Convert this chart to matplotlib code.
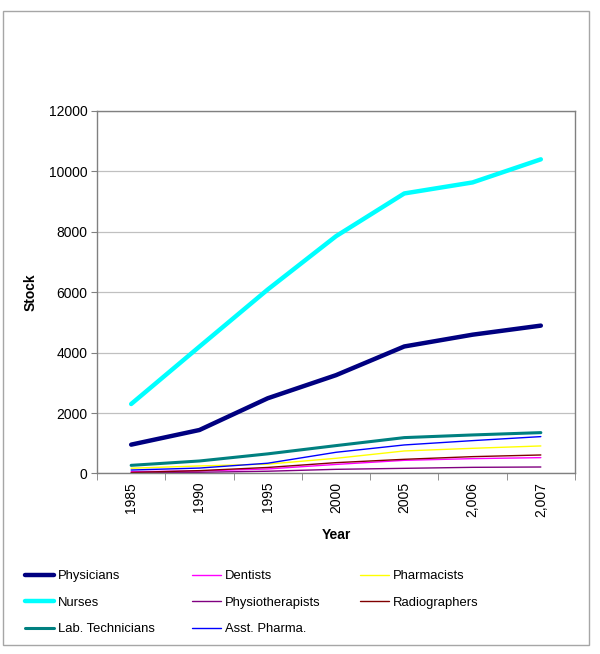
import matplotlib
matplotlib.use("Agg")
import matplotlib.pyplot as plt
from matplotlib.patches import Rectangle

plt.rcParams['font.family'] = ['Liberation Sans', 'DejaVu Sans']

years = ["1985", "1990", "1995", "2000", "2005", "2,006", "2,007"]
physicians = [955, 1440, 2490, 3255, 4205, 4595, 4895]
dentists = [60, 85, 150, 300, 436, 492, 525]
pharmacists = [175, 250, 310, 503, 746, 834, 912]
nurses = [2300, 4200, 6090, 7855, 9270, 9635, 10400]
physiotherapists = [15, 40, 75, 138, 171, 204, 215]
radiographers = [35, 95, 200, 359, 470, 558, 613]
lab_technicians = [270, 414, 650, 923, 1188, 1276, 1353]
asst_pharma = [115, 180, 340, 702, 945, 1088, 1221]

series = [
    ("Physicians", physicians, "#000080", 3.2),
    ("Dentists", dentists, "#FF00FF", 1.0),
    ("Pharmacists", pharmacists, "#FFFF00", 1.0),
    ("Nurses", nurses, "#00FFFF", 3.2),
    ("Physiotherapists", physiotherapists, "#800080", 1.0),
    ("Radiographers", radiographers, "#800000", 1.0),
    ("Lab. Technicians", lab_technicians, "#008080", 2.2),
    ("Asst. Pharma.", asst_pharma, "#0000FF", 1.0),
]

fig = plt.figure(figsize=(6.0, 6.54), dpi=100)
fig.patches.append(Rectangle((0.005, 0.0138), 0.9767, 0.9694, transform=fig.transFigure,
                             fill=False, edgecolor="#a6a6a6", linewidth=1.0))

ax = fig.add_axes([0.1617, 0.276, 0.7966, 0.5543])
x = list(range(len(years)))
handles = {}
for name, vals, color, lw in series:
    h, = ax.plot(x, vals, color=color, linewidth=lw, label=name, solid_capstyle="round")
    handles[name] = h

ax.set_xlim(-0.5, len(years) - 0.5)
ax.set_ylim(0, 12000)
ax.set_yticks(range(0, 12001, 2000))
ax.set_xticks(x)
ax.set_xticklabels(years, rotation=90, fontsize=10)
ax.set_xticks([i + 0.5 for i in range(-1, len(years))], minor=True)
ax.tick_params(axis='x', which='major', length=0, pad=6)
ax.tick_params(axis='x', which='minor', length=5, color="#808080", direction='out')
ax.tick_params(axis='y', length=4, color="#808080", direction='out', labelsize=10, pad=3)
ax.yaxis.grid(True, color="#c0c0c0", linewidth=0.9)
ax.set_axisbelow(True)
for s in ax.spines.values():
    s.set_color("#808080")
    s.set_linewidth(1.0)
ax.set_xlabel("Year", fontsize=10, fontweight="bold", labelpad=8)
ax.set_ylabel("Stock", fontsize=10, fontweight="bold", labelpad=8)

cols = [["Physicians", "Nurses", "Lab. Technicians"],
        ["Dentists", "Physiotherapists", "Asst. Pharma."],
        ["Pharmacists", "Radiographers"]]
xs = [25 / 600, 192 / 600, 360 / 600]
for cx, names in zip(xs, cols):
    fig.legend([handles[n] for n in names], names, loc="upper left",
               bbox_to_anchor=(cx, (654 - 570) / 654), frameon=False, fontsize=9.4,
               handlelength=2.2, handletextpad=0.3, labelspacing=1.1,
               borderpad=0, borderaxespad=0)

fig.savefig("out.png", dpi=100, facecolor="white")
